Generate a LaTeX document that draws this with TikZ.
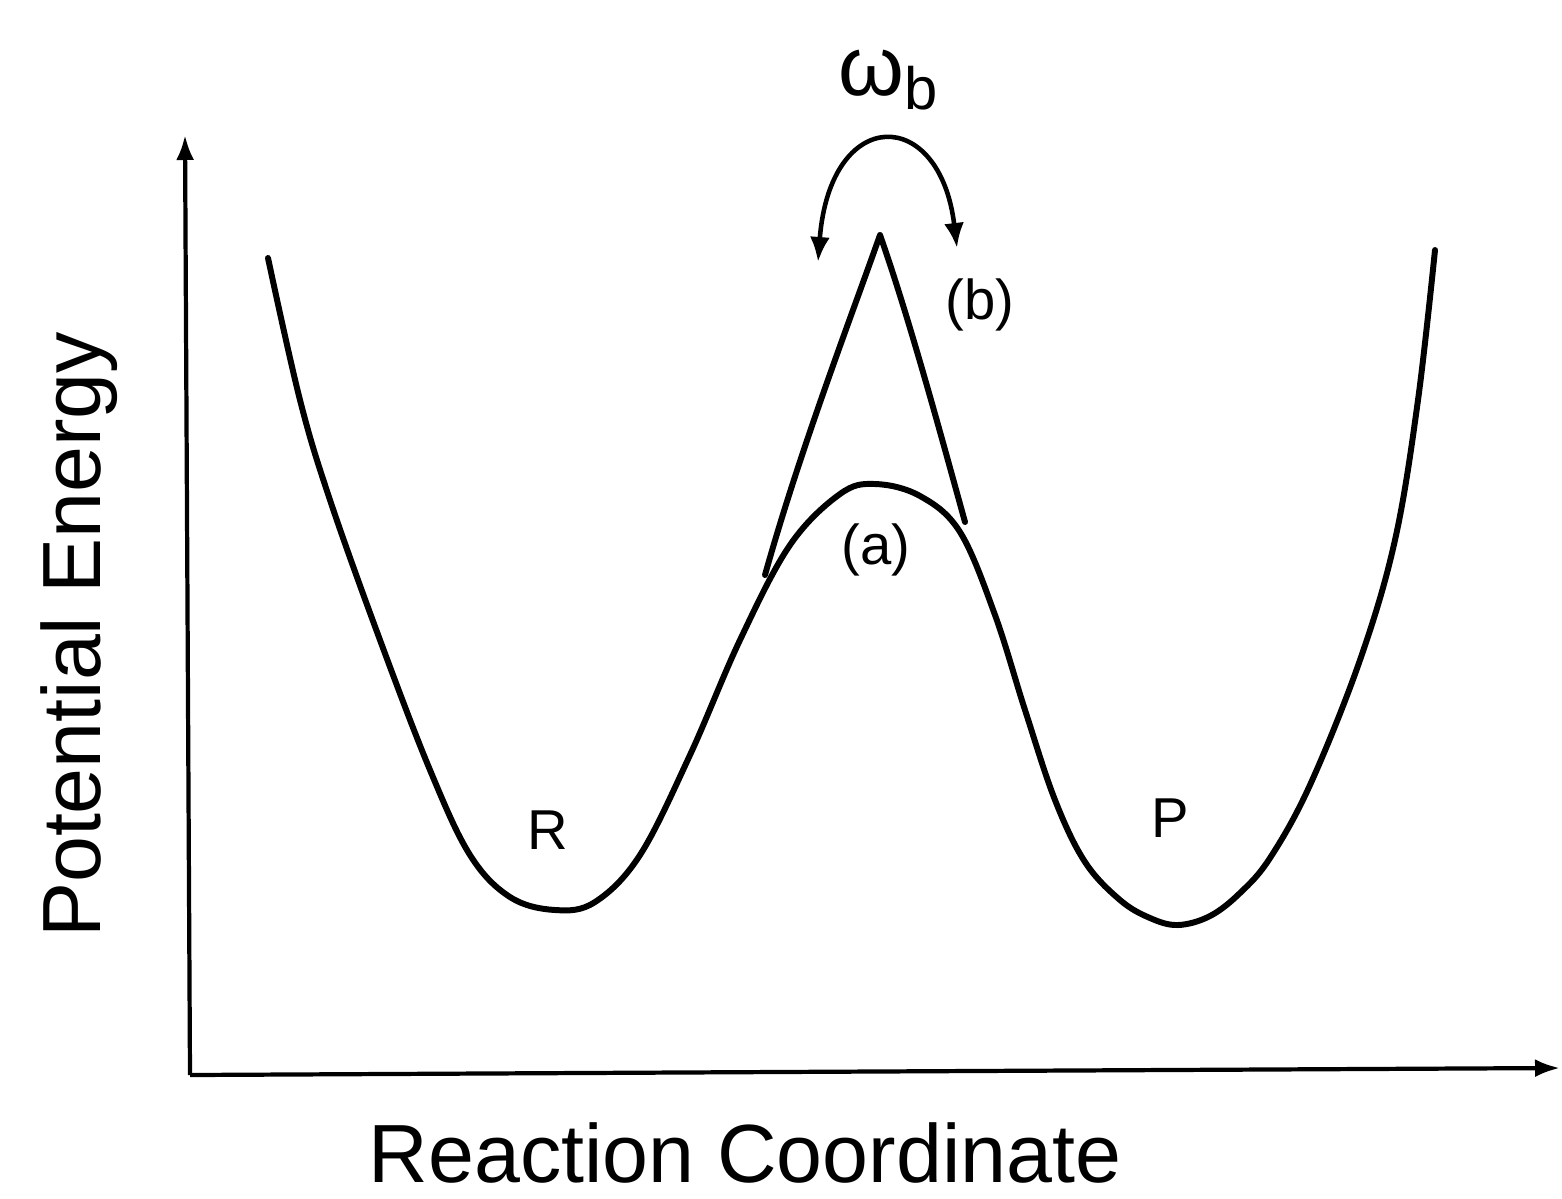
\documentclass[tikz,border=0pt]{standalone}
\usepackage{fontspec}
\setmainfont{Liberation Sans}
\usetikzlibrary{arrows.meta}

\begin{document}
\begin{tikzpicture}[
    x=0.02cm,y=-0.02cm,
    curve/.style={line width=3.4pt,line cap=round,line join=round},
    axis/.style={line width=2.4pt,-{Latex[length=5mm,width=3.6mm]}},
    lbl/.style={font=\fontsize{32}{38}\selectfont},
    axlbl/.style={font=\fontsize{47}{54}\selectfont,anchor=base,inner sep=0pt}
  ]
  \useasboundingbox (0,0) rectangle (1562,1198);

  % axes
  \coordinate (origin) at (190,1075);
  \coordinate (ytip) at (185,135);
  \coordinate (xtip) at (1560,1068);
  \draw[axis] (origin) -- (ytip);
  \draw[axis] (origin) -- (xtip);

  % double well
  \draw[curve] plot[smooth,tension=0.6] coordinates {
    (268,258) (300,400) (330,500) (380,640) (430,770) (470,855) (510,897)
    (555,910) (595,902) (640,855) (690,755) (740,640) (790,545) (840,494)
    (875,484) (920,496) (960,532) (995,615) (1025,710) (1055,800)
    (1085,862) (1120,900) (1150,918) (1178,925) (1210,916) (1240,893)
    (1270,858) (1310,785) (1360,660) (1395,540) (1418,400) (1435,250)};

  % sharp barrier (b)
  \coordinate (bl) at (765,575);
  \coordinate (btop) at (880,235);
  \coordinate (br) at (965,522);
  \draw[curve] (bl) .. controls (800,450) and (850,320) .. (btop)
    .. controls (910,320) and (945,450) .. (br);

  % barrier frequency arc
  \coordinate (arcl) at (818,262);
  \coordinate (arcr) at (957,248);
  \draw[line width=2.6pt,{Latex[length=5mm,width=4mm]}-{Latex[length=5mm,width=4mm]}]
    (arcl) .. controls (830,105) and (940,105) .. (arcr);

  % labels
  \node[lbl] (omegab) at (888,80)
    {\fontsize{48}{54}\selectfont ω\raisebox{-0.3ex}{\fontsize{34}{40}\selectfont b}};
  \node[lbl] (labb) at (980,305) {(b)};
  \node[lbl] (laba) at (876,550) {(a)};
  \node[lbl] (react) at (548,830) {R};
  \node[lbl] (prod) at (1170,818) {P};
  \node[axlbl,rotate=90] (ylabel) at (100,635) {Potential Energy};
  \node[axlbl] (xlabel) at (745,1182) {Reaction Coordinate};
\end{tikzpicture}
\end{document}
